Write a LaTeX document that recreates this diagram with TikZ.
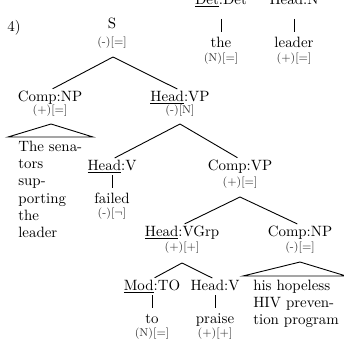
\documentclass[tikz,border=0pt]{standalone}
\begin{document}
\begin{tikzpicture}[x=0.67pt,y=-0.67pt,
  lbl/.style={inner sep=0pt,anchor=base,font=\fontsize{10}{12}\selectfont},
  word/.style={lbl,text height=7pt,text depth=2pt},
  feat/.style={inner sep=0pt,anchor=base,font=\fontsize{7.6}{9}\selectfont,text=black!80},
  txtblock/.style={inner sep=0pt,anchor=north west,align=left,font=\fontsize{10}{11.5}\selectfont},
  branch/.style={line width=0.6pt},
  bar/.style={line width=0.5pt,shorten <=3.4pt,shorten >=3pt}]
\useasboundingbox (0,0) rectangle (344,340);

% cut-off part of the tree above
\node[lbl] (det) at (221,4) {\underline{Det}:Det};
\node[word] (the) at (221,47) {the};
\node[feat] (thef) at (221,61) {(N)[=]};
\node[lbl] (hn) at (294,4) {Head:N};
\node[word] (ldr) at (294,47) {leader};
\node[feat] (ldrf) at (294,61) {(+)[=]};
\draw[line width=0.5pt,shorten <=10pt,shorten >=3pt] (det.base) -- (the.north);
\draw[line width=0.5pt,shorten <=10pt,shorten >=3pt] (hn.base) -- (ldr.north);

% example number
\node[lbl,anchor=base west] (num) at (7,31) {4)};

% S
\node[lbl] (s) at (112,28) {S};
\node[feat] (sf) at (112,45) {(-)[=]};
\coordinate (s-b) at (113,57);

\node[lbl] (cnp) at (50,101) {Comp:NP};
\node[feat] (cnpf) at (50,113) {(+)[=]};
\node[lbl] (hvp) at (180,101) {\underline{Head}:VP};
\node[feat] (hvpf) at (180,113) {(-)[N]};
\draw[branch,shorten >=2pt] (s-b) -- (cnp.north);
\draw[branch,shorten >=2pt] (s-b) -- (hvp.north);

% Comp:NP triangle
\coordinate (t1) at (51,124);
\draw[branch] (t1) -- (8,137) -- (93,137) -- cycle;
\node[txtblock] (senators) at (18,141) {The sena-\\tors\\sup-\\porting\\the\\leader};

% Head:VP children
\coordinate (hvp-b) at (180,124);
\node[lbl] (hv) at (112,170) {\underline{Head}:V};
\node[word] (failed) at (112,203) {failed};
\node[feat] (failedf) at (112,216) {(-)[$\neg$]};
\draw[bar] (hv.base) -- (failed.north);
\node[lbl] (cvp) at (240,170) {Comp:VP};
\node[feat] (cvpf) at (240,185) {(+)[=]};
\draw[branch,shorten >=2pt] (hvp-b) -- (hv.north);
\draw[branch,shorten >=2pt] (hvp-b) -- (cvp.north);

% Comp:VP children
\coordinate (cvp-b) at (240,197);
\node[lbl] (vgrp) at (182,236) {\underline{Head}:VGrp};
\node[feat] (vgrpf) at (182,250) {(+)[+]};
\node[lbl] (cnp2) at (300,236) {Comp:NP};
\node[feat] (cnp2f) at (300,250) {(-)[=]};
\draw[branch,shorten >=2pt] (cvp-b) -- (vgrp.north);
\draw[branch,shorten >=2pt] (cvp-b) -- (cnp2.north);

% Comp:NP triangle 2
\coordinate (t2) at (300,262);
\draw[branch] (t2) -- (243,276) -- (346,276) -- cycle;
\node[txtblock] (hiv) at (253,280) {his hopeless\\HIV preven-\\tion program};

% Head:VGrp children
\coordinate (vgrp-b) at (182,263);
\node[lbl] (mod) at (152,290) {\underline{Mod}:TO};
\node[word] (to) at (152,323) {to};
\node[feat] (tof) at (152,336) {(N)[=]};
\draw[bar] (mod.base) -- (to.north);
\node[lbl] (hv2) at (215,290) {Head:V};
\node[word] (praise) at (215,323) {praise};
\node[feat] (praisef) at (215,336) {(+)[+]};
\draw[bar] (hv2.base) -- (praise.north);
\draw[branch,shorten >=2pt] (vgrp-b) -- (mod.north);
\draw[branch,shorten >=2pt] (vgrp-b) -- (hv2.north);
\end{tikzpicture}
\end{document}
